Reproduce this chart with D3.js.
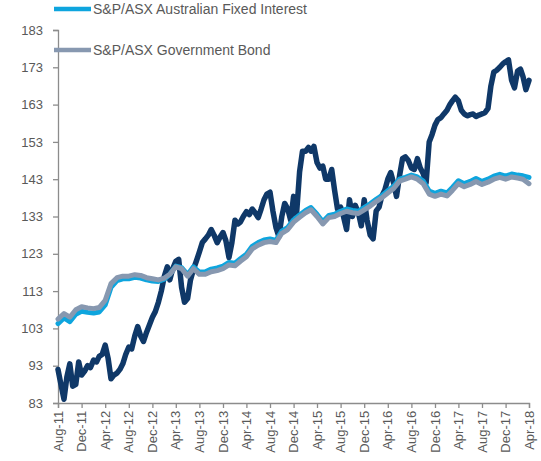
<!DOCTYPE html>
<html>
<head>
<meta charset="utf-8">
<style>
  body { margin: 0; background: #fff; }
  svg { display: block; }
</style>
</head>
<body>
<div id="container"></div>
<script src="https://cdn.jsdelivr.net/npm/d3@7/dist/d3.min.js"></script>
<script>

// Chart size and margins
const width = 541;
const height = 461;
const marginTop = 30;
const marginRight = 12;
const marginBottom = 58;
const marginLeft = 58;

/*** DATA ***/

// legend names of the two bond series (the equity entry is above the picture)
const legendNames = ["S&P/ASX Australian Fixed Interest", "S&P/ASX Government Bond"];

// x axis tick labels, every 4 months
const tickLabels = ["Aug-11", "Dec-11", "Apr-12", "Aug-12", "Dec-12", "Apr-13", "Aug-13", "Dec-13",
  "Apr-14", "Aug-14", "Dec-14", "Apr-15", "Aug-15", "Dec-15", "Apr-16", "Aug-16", "Dec-16",
  "Apr-17", "Aug-17", "Dec-17", "Apr-18"];

const yTicks = [83, 93, 103, 113, 123, 133, 143, 153, 163, 173, 183];

// equity series, read twice a month starting Aug 2011
const equityValues = [
  92, 88, 84, 90, 93.5, 87.5, 88, 94, 90.5, 91.5,
  93, 92.5, 94.5, 94, 95.5, 96, 98.5, 95, 89.5, 90.5,
  91, 92, 93.5, 96, 98, 97.5, 101, 103.5, 101, 99.5,
  102, 104, 106, 107.5, 110, 113, 117, 119.5, 116, 119,
  121, 121.5, 114, 110, 111, 116, 118.8, 121, 123.5, 126,
  127, 128, 129.5, 128, 126, 127.5, 128.7, 126.5, 122, 126,
  132, 131, 131.5, 133, 134.3, 133.5, 135, 134, 132.7, 135,
  137.5, 139, 139.5, 134.5, 130, 127.6, 133, 136.5, 135, 132,
  138.4, 133.5, 145, 150.5, 150.5, 151.5, 150.5, 151.8, 147.5, 146,
  146.5, 143, 143, 145.6, 140, 135, 135.5, 133, 129.5, 137.5,
  133, 136, 134, 130.5, 137.5, 132, 128, 127, 134.5, 135.5,
  138.5, 140, 143, 144.8, 142, 138.4, 144, 148.5, 149, 148,
  146, 145.6, 148.5, 146, 144.5, 142, 153, 155, 157.5, 159,
  159.5, 160.5, 161.5, 163, 164, 165, 164, 161.5, 160.5, 160,
  160.3, 160.5, 159.8, 160.2, 160.5, 160.8, 162, 168, 171.7, 172.2,
  173, 173.9, 174.5, 175, 169.5, 167.5, 172, 172.5, 170.5, 167,
  169.5
];

// fixed interest index, monthly from Aug 2011
const fixedInterestValues = [
  104.3, 105.8, 104.8, 106.8, 107.6, 107.3, 107.1, 107.4, 109.3, 114,
  115.8, 116.3, 116.3, 116.7, 116.5, 116, 115.7, 115.6, 116.2, 117.5,
  119.7, 119.3, 117.4, 119.5, 118.1, 118.2, 118.9, 119.2, 119.7, 120.7,
  120.5, 121.7, 122.9, 125, 126, 126.7, 127, 126.6, 129.1, 130.1,
  132.1, 133.4, 134.6, 135.4, 133.6, 131.6, 133.3, 133.6, 134.4, 135,
  134.6, 134.4, 135.4, 136.4, 137.6, 138.6, 139.9, 141.1, 143, 143.5,
  144.1, 143.6, 142.5, 139.8, 139.2, 139.8, 139.3, 140.8, 142.6, 141.8,
  142.4, 143.2, 142.4, 143, 143.8, 144.3, 143.8, 144.4, 144.1, 143.9,
  143.5
];

// government bond index, monthly from Aug 2011
const govBondValues = [
  105.5, 107, 106, 108, 108.8, 108.5, 108.3, 108.6, 110.5, 115,
  116.6, 117, 117, 117.4, 117.2, 116.6, 116.3, 116, 116.5, 117.5,
  119.5, 119, 117, 119, 117.5, 117.5, 118.2, 118.5, 119, 120,
  119.8, 121, 122.2, 124.3, 125.3, 126, 126.3, 126, 128.5, 129.5,
  131.5, 132.8, 134, 134.8, 133, 131, 132.7, 133, 133.8, 134.4,
  134, 133.8, 134.8, 135.8, 137, 138, 139.3, 140.5, 142.5, 143,
  143.6, 143, 141.8, 139, 138.4, 139, 138.5, 140, 141.8, 141,
  141.6, 142.4, 141.6, 142.2, 143, 143.5, 143, 143.6, 143.3, 143,
  141.8
];

const equityColor = "#0f3868";
const fixedColor = "#0ea5de";
const govColor = "#8798b0";

/*** HELPERS ***/

const startDate = new Date(Date.UTC(2011, 7, 1));
const endDate = new Date(Date.UTC(2018, 3, 1));

// date for the i-th half month point
function halfMonthDate(i) {
  const d = d3.utcMonth.offset(startDate, Math.floor(i / 2));
  return i % 2 ? d3.utcDay.offset(d, 15) : d;
}

const equity = equityValues.map((v, i) => ({ dt: halfMonthDate(i), value: v }));
const fixedInterest = fixedInterestValues.map((v, i) => ({ dt: d3.utcMonth.offset(startDate, i), value: v }));
const govBond = govBondValues.map((v, i) => ({ dt: d3.utcMonth.offset(startDate, i), value: v }));

/*** SCALES AND AXES ***/

const x = d3.scaleUtc()
  .domain([startDate, endDate])
  .range([marginLeft, width - marginRight]);

const y = d3.scaleLinear()
  .domain([83, 183])
  .range([height - marginBottom, marginTop]);

const svg = d3.create("svg")
  .attr("width", width)
  .attr("height", height)
  .attr("font-family", "'Liberation Sans', Arial, sans-serif");

const tickDates = tickLabels.map((d, i) => d3.utcMonth.offset(startDate, i * 4));

// x axis
const xAxis = svg.append("g")
  .attr("transform", `translate(0,${height - marginBottom})`)
  .call(d3.axisBottom(x)
    .tickValues(tickDates)
    .tickFormat((d, i) => tickLabels[i])
    .tickSize(5)
    .tickPadding(4));

xAxis.selectAll("text")
  .attr("transform", "rotate(-90)")
  .attr("text-anchor", "end")
  .attr("dx", "-0.6em")
  .attr("dy", "0.32em")
  .attr("x", 0)
  .attr("y", 0)
  .attr("font-size", 13)
  .attr("fill", "#595959");

// y axis
const yAxis = svg.append("g")
  .attr("transform", `translate(${marginLeft},0)`)
  .call(d3.axisLeft(y)
    .tickValues(yTicks)
    .tickSize(5)
    .tickPadding(10));

yAxis.selectAll("text")
  .attr("font-size", 13)
  .attr("fill", "#595959");

svg.selectAll(".domain, .tick line")
  .attr("stroke", "#8c8c8c")
  .attr("stroke-width", 1.3);

/*** LINES ***/

const line = d3.line()
  .x(d => x(d.dt))
  .y(d => y(d.value));

// equity first, government bond on top
svg.append("path")
  .attr("fill", "none")
  .attr("stroke", equityColor)
  .attr("stroke-width", 5.5)
  .attr("stroke-linejoin", "round")
  .attr("stroke-linecap", "round")
  .attr("d", line(equity));

svg.append("path")
  .attr("fill", "none")
  .attr("stroke", fixedColor)
  .attr("stroke-width", 5)
  .attr("stroke-linejoin", "round")
  .attr("stroke-linecap", "round")
  .attr("d", line(fixedInterest));

svg.append("path")
  .attr("fill", "none")
  .attr("stroke", govColor)
  .attr("stroke-width", 5)
  .attr("stroke-linejoin", "round")
  .attr("stroke-linecap", "round")
  .attr("d", line(govBond));

/*** LEGEND ***/

const legend = svg.append("g")
  .attr("font-size", 14)
  .attr("fill", "#595959");

[fixedColor, govColor].forEach((color, i) => {
  const ly = 9 + i * 41;
  legend.append("line")
    .attr("x1", 54)
    .attr("x2", 91)
    .attr("y1", ly)
    .attr("y2", ly)
    .attr("stroke", color)
    .attr("stroke-width", 4.5);
  legend.append("text")
    .attr("x", 93)
    .attr("y", ly)
    .attr("dy", "0.35em")
    .text(legendNames[i]);
});

container.append(svg.node());
</script>
</body>
</html>
